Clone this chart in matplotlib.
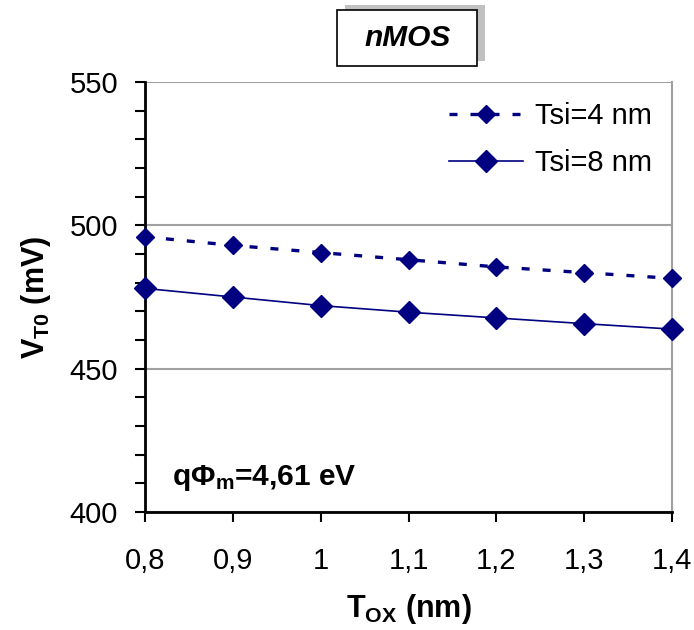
import matplotlib
matplotlib.use("Agg")
import matplotlib.pyplot as plt
from matplotlib.patches import Rectangle
from matplotlib.ticker import MultipleLocator

# data
tox = [0.8, 0.9, 1.0, 1.1, 1.2, 1.3, 1.4]
tox_labels = ['0,8', '0,9', '1', '1,1', '1,2', '1,3', '1,4']
vt0_tsi4 = [496, 493, 490.5, 488, 485.5, 483.5, 481.5]
vt0_tsi8 = [478, 475, 472, 469.7, 467.7, 465.7, 463.8]
y_ticks = [400, 450, 500, 550]

plt.rcParams['font.family'] = ['Liberation Sans', 'DejaVu Sans']
plt.rcParams['mathtext.fontset'] = 'custom'
plt.rcParams['mathtext.rm'] = 'Liberation Sans'
plt.rcParams['mathtext.bf'] = 'Liberation Sans:bold'
plt.rcParams['mathtext.it'] = 'Liberation Sans:italic'

navy = '#000080'

fig = plt.figure(figsize=(6.94, 6.30), dpi=100)
ax = fig.add_axes([145/694, 1 - 512/630, 527/694, 430/630])

ax.plot(tox, vt0_tsi4, color=navy, lw=2.4, dashes=(2.4, 3.9), marker='D',
        ms=8.7, label='Tsi=4 nm', clip_on=False, zorder=3)
ax.plot(tox, vt0_tsi8, color=navy, lw=1.2, marker='D', ms=11,
        label='Tsi=8 nm', clip_on=False, zorder=3)

ax.set_xlim(0.8, 1.4)
ax.set_ylim(400, 550)
ax.set_xticks(tox)
ax.set_xticklabels(tox_labels)
ax.set_yticks(y_ticks)
ax.yaxis.set_minor_locator(MultipleLocator(10))
ax.tick_params(axis='both', which='major', direction='out', length=7.5,
               width=1.5, labelsize=21, color='black')
ax.tick_params(axis='y', which='minor', direction='out', length=7.5, width=1.5)
ax.tick_params(axis='x', pad=18)
ax.tick_params(axis='y', pad=12)

ax.grid(axis='y', color='#a0a0a0', lw=1.5)
ax.set_axisbelow(True)
ax.spines['top'].set_visible(False)
ax.spines['right'].set_color('#a0a0a0')
ax.spines['right'].set_linewidth(1.5)
ax.spines['left'].set_linewidth(2)
ax.spines['bottom'].set_linewidth(2)

ax.set_xlabel(r'T$_\mathbf{OX}$ (nm)', fontsize=22, fontweight='bold', labelpad=12)
ax.set_ylabel(r'V$_\mathbf{T0}$ (mV)', fontsize=22, fontweight='bold', labelpad=12)

ax.legend(loc='upper right', frameon=False, fontsize=21, handlelength=2.55,
          borderaxespad=0.3, labelspacing=0.65, handletextpad=0.4)

ax.text(0.051, 0.063, r'q$\mathbf{\Phi_m}$=4,61 eV', transform=ax.transAxes,
        fontsize=21.5, fontweight='bold', va='baseline')

# title box with shadow
fig.patches.append(Rectangle((345/694, 1 - 61/630), 140/694, 56/630,
                             transform=fig.transFigure, facecolor='#c0c0c0',
                             edgecolor='none', zorder=0))
fig.patches.append(Rectangle((337/694, 1 - 66/630), 140/694, 56/630,
                             transform=fig.transFigure, facecolor='white',
                             edgecolor='black', lw=1.2, zorder=1))
fig.text(408/694, 1 - 38/630, 'nMOS', fontsize=21.5, fontweight='bold',
         fontstyle='italic', ha='center', va='center', zorder=2)

fig.savefig('out.png', dpi=100)
